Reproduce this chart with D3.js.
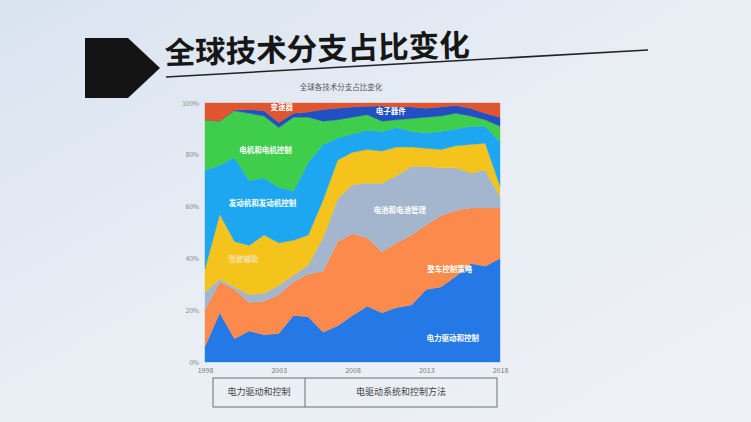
<!DOCTYPE html>
<html><head><meta charset="utf-8">
<script src="https://cdn.jsdelivr.net/npm/d3@7"></script>
<style>html,body{margin:0;padding:0;overflow:hidden;background:#e8edf4;}</style>
</head><body>
<svg id="c" width="751" height="422"></svg>
<script>
const years = d3.range(1998, 2019);
const tickYears = [1998, 2003, 2008, 2013, 2018];
const yTicks = [0, 20, 40, 60, 80, 100];
const seriesNames = ["电力驱动和控制","整车控制策略","电池和电池管理","驾驶辅助","发动机和发动机控制","电机和电机控制","电子器件","变速器"];
const colors = ["#2479e6","#fb8a4c","#a4b6cd","#f5c41c","#1ca7f0","#3fcd4c","#2150c3","#df5530"];
const electricDrive = [6,19,9,12,10.5,11,18,17.5,11.5,14,18,21.5,19,21,22,28,29,33,38,37,40];
const vehicleControl = [14,12,19,11,13,15,13,16.5,23.5,32.5,31.5,26.5,23.5,25,27,25,27.5,25.5,21.5,22.5,19.5];
const battery = [7,1,1,3,3,3.5,2.5,3.5,13,16.5,19,21,26.5,26,26.5,22.5,18.5,16.5,13.5,14.5,4.5];
const assist = [9,25,17.5,19,22.5,16.5,13.5,11.5,14.5,15,12.5,13,12.5,11,7.5,7,7,8.5,11,10.5,4];
const engine = [38,19,32.5,25,22,21.5,19,28,21.5,8.5,7,7.5,7.5,7.5,6,6,7,6.5,7,6.5,17];
const motor = [19.5,17,18,26,24,23,28.5,17.5,9,7,6.5,6,4,3,5,6,6,6,4,2.5,6];
const electronics = [0,0,0.3,1.5,2,2,1.5,2,4.5,4.5,4,3.2,5.8,5,4.5,3.5,3.5,3,3,2.5,3.5];
const transmission = [6.5,7,2.7,2.5,3,7.5,4,3.5,2.5,2,1.5,1.3,1.2,1.5,1.5,2,1.5,1,2,4,5.5];
const seriesValues = [electricDrive,vehicleControl,battery,assist,engine,motor,electronics,transmission];
const areaLabels = [
  {i:0, year:2014.8, v:9},
  {i:1, year:2014.6, v:35.5},
  {i:2, year:2011.2, v:58.5},
  {i:3, year:2000.6, v:39.5},
  {i:4, year:2001.9, v:61},
  {i:5, year:2002.1, v:81.5},
  {i:6, year:2010.6, v:96.5},
  {i:7, year:2003.2, v:98}
];
const tableCells = ["电力驱动和控制","电驱动系统和控制方法"];

const svg = d3.select("#c");
const FONT = "'Noto Sans CJK SC','Noto Sans',sans-serif";

// background
const defs = svg.append("defs");
const g1 = defs.append("linearGradient").attr("id","bg").attr("x1","0").attr("y1","0").attr("x2","1").attr("y2","1");
g1.append("stop").attr("offset","0").attr("stop-color","#d9e3f0");
g1.append("stop").attr("offset","0.5").attr("stop-color","#e9eef5");
g1.append("stop").attr("offset","1").attr("stop-color","#eef1f6");
svg.append("rect").attr("width",751).attr("height",422).attr("fill","url(#bg)");

// header shape
svg.append("path").attr("d","M85,38 L128,38 L160,68 L128,98 L85,98 Z").attr("fill","#141414");
svg.append("text").attr("x",165).attr("y",64).attr("transform","rotate(-1.5,165,64)")
  .attr("font-family",FONT).attr("font-weight","bold")
  .attr("font-size",30.5).attr("fill","#161616").text("全球技术分支占比变化");
svg.append("line").attr("x1",166).attr("y1",77).attr("x2",648).attr("y2",50)
  .attr("stroke","#222").attr("stroke-width",1.6);

// chart title
svg.append("text").attr("x",341).attr("y",90).attr("text-anchor","middle").attr("font-family",FONT)
  .attr("font-size",7.5).attr("fill","#555").text("全球各技术分支占比变化");

const x = d3.scaleLinear().domain([1998,2018]).range([205,500]);
const y = d3.scaleLinear().domain([0,100]).range([362,103]);

const table = years.map((yr,j)=>{
  const o = {year:yr};
  seriesNames.forEach((n,i)=>o[n]=seriesValues[i][j]);
  return o;
});
const stack = d3.stack().keys(seriesNames)(table);
const area = d3.area().x(d=>x(d.data.year)).y0(d=>y(d[0])).y1(d=>y(Math.min(100,d[1]))).curve(d3.curveLinear);

svg.append("g").selectAll("path").data(stack).join("path")
  .attr("d",area).attr("fill",(d,i)=>colors[i]).attr("stroke",(d,i)=>colors[i]).attr("stroke-width",0.4);

// axes
const ax = svg.append("g").attr("transform","translate(0,362)")
  .call(d3.axisBottom(x).tickValues(tickYears).tickFormat(d3.format("d")).tickSize(0).tickPadding(6));
ax.select(".domain").remove();
ax.selectAll("text").attr("font-family",FONT).attr("font-size",7).attr("fill","#777");
const ay = svg.append("g").attr("transform","translate(199,0)")
  .call(d3.axisLeft(y).tickValues(yTicks).tickFormat(d=>d+"%").tickSize(0).tickPadding(0));
ay.select(".domain").remove();
ay.selectAll("text").attr("font-family",FONT).attr("font-size",6.5).attr("fill","#888");

// area labels
svg.append("g").selectAll("text").data(areaLabels).join("text")
  .attr("x",d=>x(d.year)).attr("y",d=>y(d.v)).attr("text-anchor","middle").attr("dominant-baseline","middle")
  .attr("font-family",FONT).attr("font-size",7.5).attr("font-weight","bold")
  .attr("fill",d=>d.i===3?"#f3e3b0":"#ffffff").text(d=>seriesNames[d.i]);

// table below
const tb = svg.append("g");
tb.append("rect").attr("x",213).attr("y",378).attr("width",284).attr("height",29)
  .attr("fill","none").attr("stroke","#6a6f78").attr("stroke-width",1);
tb.append("line").attr("x1",305).attr("y1",378).attr("x2",305).attr("y2",407).attr("stroke","#6a6f78");
tb.append("text").attr("x",259).attr("y",393).attr("text-anchor","middle").attr("dominant-baseline","middle")
  .attr("font-family",FONT).attr("font-size",9).attr("fill","#444").text(tableCells[0]);
tb.append("text").attr("x",401).attr("y",393).attr("text-anchor","middle").attr("dominant-baseline","middle")
  .attr("font-family",FONT).attr("font-size",9).attr("fill","#444").text(tableCells[1]);
</script>
</body></html>
